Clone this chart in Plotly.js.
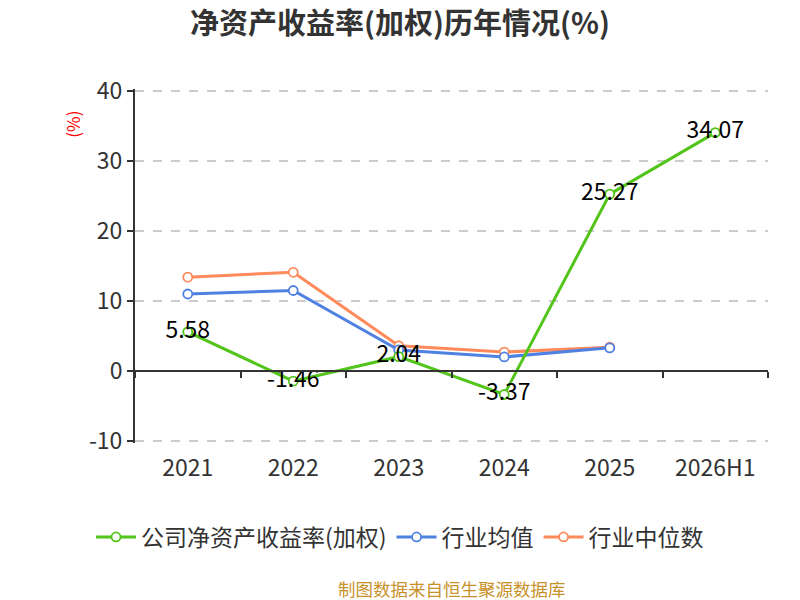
<!DOCTYPE html>
<html>
<head>
<meta charset="utf-8">
<script src="https://cdn.plot.ly/plotly-3.0.1.min.js"></script>
<style>
  html, body { margin: 0; padding: 0; background: #fff; }
  #chart { width: 800px; height: 600px; }
</style>
</head>
<body>
<div id="chart"></div>
<script>
// Values
var years = ['2021', '2022', '2023', '2024', '2025', '2026H1'];
var company_roe = [5.58, -1.46, 2.04, -3.37, 25.27, 34.07];
var industry_mean = [11.0, 11.5, 3.0, 2.0, 3.3, null];
var industry_median = [13.4, 14.1, 3.6, 2.7, 3.4, null];
var y_ticks = [-10, 0, 10, 20, 30, 40];
var y_tick_labels = ['-10', '0', '10', '20', '30', '40'];
var zero_ticks = [-0.5, 0.5, 1.5, 2.5, 3.5, 4.5, 5.5];

var font_family = '"Noto Sans CJK SC", "Noto Sans", sans-serif';

// A little padding on the y range so the grid lines at 40 and -10 are drawn
var y_pad = 0.3;
var y_range = [-10 - y_pad, 40 + y_pad];

/**
 * One line series with open circle markers.
 */
function line_trace(name, values, color, rank) {
  return {
    x: years,
    y: values,
    name: name,
    type: 'scatter',
    mode: 'lines+markers',
    line: { color: color, width: 3 },
    marker: {
      symbol: 'circle',
      size: 9,
      color: '#fff',
      line: { color: color, width: 1.8 },
    },
    legendrank: rank,
    hoverinfo: 'x+y',
  };
}

var median_trace = line_trace('行业中位数', industry_median, '#FF8A5B', 3);
var mean_trace = line_trace('行业均值', industry_mean, '#4F81E3', 2);
var company_trace = line_trace('公司净资产收益率(加权)', company_roe, '#52C41A', 1);
company_trace.mode = 'lines+markers+text';
company_trace.text = company_roe.map((v) => v.toFixed(2));
company_trace.textposition = 'middle center';
company_trace.textfont = { size: 23, color: '#000', family: font_family };

// Invisible trace so the zero-line axis gets its ticks
var zero_axis_trace = {
  x: zero_ticks,
  y: zero_ticks.map(() => 0),
  xaxis: 'x2',
  type: 'scatter',
  mode: 'none',
  showlegend: false,
  hoverinfo: 'skip',
};

var chart_data = [median_trace, mean_trace, company_trace, zero_axis_trace];

var chart_layout = {
  width: 800,
  height: 600,
  margin: { l: 135, r: 32, t: 90.7 - y_pad * 7, b: 159.3 - y_pad * 7 },
  paper_bgcolor: '#fff',
  plot_bgcolor: '#fff',
  font: { family: font_family, color: '#333' },
  title: {
    text: '<b>净资产收益率(加权)历年情况(%)</b>',
    font: { size: 29, color: '#333', family: font_family },
    x: 0.5,
    xanchor: 'center',
    y: 0.96,
    yanchor: 'middle',
  },
  xaxis: {
    type: 'category',
    range: [-0.5, 5.5],
    showline: false,
    showgrid: false,
    zeroline: false,
    ticks: '',
    tickfont: { size: 23, color: '#333' },
    ticklabelstandoff: 9,
    fixedrange: true,
  },
  // axis line along y = 0, with ticks between the categories
  xaxis2: {
    overlaying: 'x',
    anchor: 'free',
    position: (0 - y_range[0]) / (y_range[1] - y_range[0]),
    side: 'bottom',
    type: 'linear',
    range: [-0.5, 5.5],
    tickvals: zero_ticks,
    showticklabels: false,
    ticks: 'outside',
    ticklen: 6,
    tickwidth: 2,
    tickcolor: '#333',
    showline: true,
    linecolor: '#333',
    linewidth: 2,
    showgrid: false,
    zeroline: false,
    fixedrange: true,
  },
  yaxis: {
    range: y_range,
    tickvals: y_ticks,
    ticktext: y_tick_labels,
    showline: true,
    linecolor: '#333',
    linewidth: 2,
    ticks: 'outside',
    ticklen: 6,
    tickwidth: 2,
    tickcolor: '#333',
    tickfont: { size: 23, color: '#333' },
    gridcolor: '#ccc',
    griddash: 'dash',
    gridwidth: 1.5,
    zeroline: false,
    fixedrange: true,
  },
  showlegend: true,
  legend: {
    orientation: 'h',
    xref: 'container',
    yref: 'container',
    x: 0.5,
    xanchor: 'center',
    y: 0.105,
    yanchor: 'middle',
    font: { size: 23, color: '#333' },
    itemwidth: 40,
  },
  annotations: [
    {
      text: '(%)',
      textangle: -90,
      font: { size: 17, color: '#f00' },
      xref: 'paper',
      yref: 'paper',
      x: -0.098,
      xanchor: 'center',
      y: 0.902,
      yanchor: 'middle',
      showarrow: false,
    },
    {
      text: '制图数据来自恒生聚源数据库',
      font: { size: 17.5, color: '#C8922A' },
      xref: 'paper',
      yref: 'paper',
      x: 0.5,
      xanchor: 'center',
      y: -0.41,
      yanchor: 'middle',
      showarrow: false,
    },
  ],
};

Plotly.newPlot('chart', chart_data, chart_layout, { displayModeBar: false, responsive: false });
</script>
</body>
</html>
